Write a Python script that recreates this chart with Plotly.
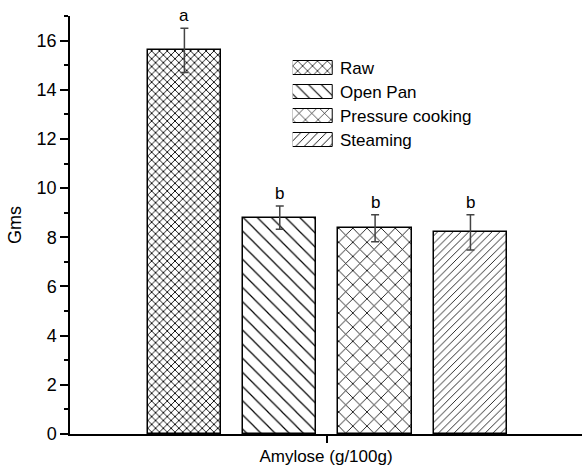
import plotly.graph_objects as go

categories = ["Raw", "Open Pan", "Pressure cooking", "Steaming"]
values = [15.6, 8.8, 8.37, 8.2]
errors = [0.9, 0.47, 0.55, 0.72]
letters = ["a", "b", "b", "b"]
shapes = ["x", "\\", "x", "/"]
pat_sizes = [5.5, 10, 10, 5.5]
pat_solid = [0.3, 0.12, 0.16, 0.15]
x_title = "Amylose (g/100g)"
y_title = "Gms"

FONT = "Liberation Sans, Arial, sans-serif"
xs = list(range(len(categories)))
center = sum(xs) / len(xs)

fig = go.Figure()
fig.add_trace(go.Bar(
    x=xs, y=values, width=0.77,
    marker=dict(color="white", line=dict(color="black", width=1.5),
                pattern=dict(shape=shapes, size=pat_sizes, solidity=pat_solid,
                             fgcolor="black", bgcolor="white", fillmode="replace")),
    error_y=dict(type="data", array=errors, visible=True, color="#444",
                 thickness=1.5, width=4),
    showlegend=False, hoverinfo="skip",
))

for x, v, e, t in zip(xs, values, errors, letters):
    fig.add_annotation(x=x, y=v + e, text=t, showarrow=False, yanchor="bottom",
                       yshift=1, font=dict(size=17, color="black", family=FONT))

# custom legend swatches on a small axis pair
fig.add_trace(go.Bar(
    x=[1] * len(categories), y=categories, orientation="h", width=0.55,
    xaxis="x2", yaxis="y2",
    marker=dict(color="white", line=dict(color="black", width=1),
                pattern=dict(shape=shapes, size=[7, 9, 9, 6], solidity=[0.2, 0.12, 0.14, 0.15],
                             fgcolor="black", bgcolor="white", fillmode="replace")),
    showlegend=False, hoverinfo="skip",
))

fig.update_layout(
    width=582, height=469,
    margin=dict(l=70, r=0, t=16, b=35),
    plot_bgcolor="white", paper_bgcolor="white",
    font=dict(family=FONT, size=18, color="black"),
    bargap=0,
    xaxis=dict(range=[-1.2, 4.17], tickvals=[center], ticktext=[""],
               ticks="outside", ticklen=7, tickwidth=1.5, tickcolor="black",
               showline=True, linecolor="black", linewidth=1.5,
               showgrid=False, zeroline=False, fixedrange=True,
               title=dict(text=x_title, standoff=5, font=dict(size=17))),
    yaxis=dict(range=[0, 17], dtick=2, tick0=0, ticks="outside", ticklen=8,
               tickwidth=1.5, tickcolor="black",
               minor=dict(dtick=1, ticks="outside", ticklen=4, tickwidth=1.5, tickcolor="black"),
               showline=True, linecolor="black", linewidth=1.5,
               showgrid=False, zeroline=False, tickfont=dict(size=18), fixedrange=True,
               title=dict(text=y_title, standoff=10, font=dict(size=18))),
    xaxis2=dict(domain=[0.435, 0.5137], range=[0, 1], anchor="y2",
                visible=False, fixedrange=True),
    yaxis2=dict(domain=[0.6746, 0.9043], anchor="x2", side="right",
                categoryorder="array", categoryarray=categories[::-1],
                showline=False, showgrid=False, zeroline=False, ticks="",
                ticklabelstandoff=6, tickfont=dict(size=17), fixedrange=True),
)

fig.write_html("out.html", config={"displayModeBar": False},
               post_script="document.body.style.margin='0';")
